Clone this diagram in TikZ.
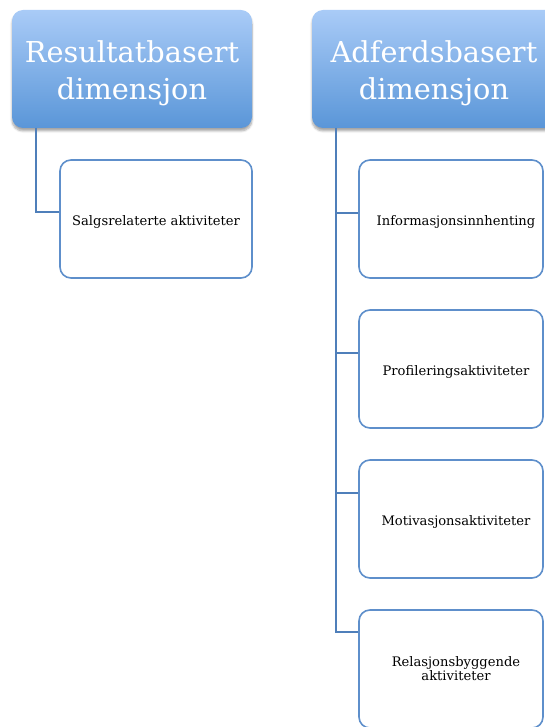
\documentclass[tikz,border=0pt]{standalone}
\usepackage{fontspec}
\setmainfont{DejaVu Serif}
\usetikzlibrary{shadows.blur}
\definecolor{hdtop}{HTML}{A9CBF7}
\definecolor{hdbot}{HTML}{5A96D8}
\definecolor{edge}{HTML}{5E8FCB}
\definecolor{conn}{HTML}{4F7FBA}
\tikzset{
  x=1pt,y=-1pt,
  header/.style={rounded corners=11pt, top color=hdtop, bottom color=hdbot, draw=none,
    blur shadow={shadow xshift=0pt, shadow yshift=-3pt, shadow blur steps=6, shadow opacity=35}},
  htext/.style={text=white, align=center, font=\fontsize{28.8}{37}\selectfont, inner sep=0pt},
  child/.style={rounded corners=11pt, draw=edge, line width=1.6pt, fill=white,
    align=center, font=\fontsize{13.1}{14}\selectfont, inner sep=0pt, text=black,
    minimum height=118pt},
  oneline/.style={text height=13pt, text depth=0pt}
}
\tikzset{conline/.style={draw=conn, line width=1.6pt}}
\begin{document}
\begin{tikzpicture}
\useasboundingbox (0,0) rectangle (545,727);
% headers
\path[header] (12,10) rectangle (252,128);
\node[htext] (h1) at (132,73) {Resultatbasert\\dimensjon};
\path[header] (312,10) rectangle (556,128);
\node[htext] (h2) at (434,73) {Adferdsbasert\\dimensjon};
% coordinates for connector starts
\coordinate (h1b) at (36,128);
\coordinate (h2b) at (336,128);
% left child
\node[child, oneline, minimum width=192pt] (c1) at (156,219) {Salgsrelaterte aktiviteter};
% right children
\node[child, oneline, minimum width=184pt] (r1) at (451,219) {\hspace*{10pt}Informasjonsinnhenting};
\node[child, oneline, minimum width=184pt] (r2) at (451,369) {\hspace*{10pt}Profileringsaktiviteter};
\node[child, oneline, minimum width=184pt] (r3) at (451,519) {\hspace*{10pt}Motivasjonsaktiviteter};
\node[child, minimum width=184pt] (r4) at (451,669) {\hspace*{10pt}Relasjonsbyggende\\\hspace*{10pt}aktiviteter};
% connectors
\draw[conline] (h1b) |- (c1.west |- 0,212);
\draw[conline] (h2b) |- (r4.west |- 0,632);
\draw[conline] (336,213) -- (r1.west |- 0,213);
\draw[conline] (336,353) -- (r2.west |- 0,353);
\draw[conline] (336,493) -- (r3.west |- 0,493);
\end{tikzpicture}
\end{document}
